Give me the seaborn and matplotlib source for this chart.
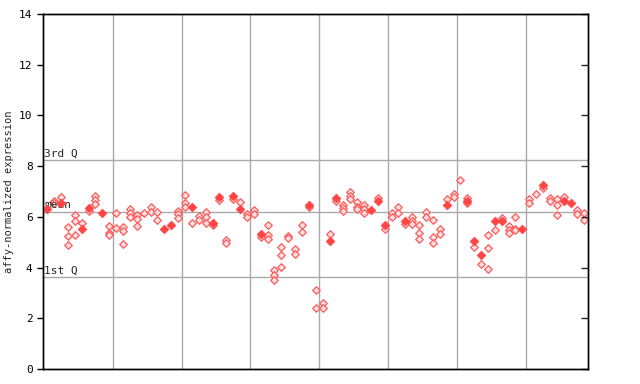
import numpy as np
import pandas as pd
import matplotlib
matplotlib.use("Agg")
import matplotlib.pyplot as plt
import seaborn as sns

# Expression values per sample column (open and solid diamonds)
open_pts = [
    [], [6.64, 6.55], [6.78], [5.59, 5.23, 4.88], [6.07, 5.84, 5.27],
    [5.76], [6.23], [6.82, 6.67, 6.51], [], [5.62, 5.35, 5.28],
    [6.14, 5.56], [5.59, 5.43, 4.92], [6.30, 6.14, 5.98], [6.07, 5.90, 5.62], [6.14],
    [6.38, 6.20], [6.20, 5.88], [], [], [6.23, 6.10, 5.94],
    [6.85, 6.56, 6.40], [5.74], [6.05, 5.88], [6.21, 5.98, 5.74], [5.66],
    [6.67], [5.09, 4.95], [6.69], [6.57], [6.12, 6.01],
    [6.26, 6.10], [5.19], [5.66, 5.28, 5.11], [3.90, 3.71, 3.51], [4.80, 4.48, 4.01],
    [5.24, 5.17], [4.72, 4.52], [5.66, 5.39], [6.38], [3.10, 2.39],
    [2.59, 2.39], [5.31], [6.64], [6.45, 6.33, 6.23], [6.99, 6.82, 6.70],
    [6.57, 6.38, 6.30], [6.47, 6.30, 6.14], [], [6.73], [5.53],
    [6.14, 6.01], [6.38, 6.14], [5.73], [5.98, 5.85, 5.73], [5.66, 5.35, 5.14],
    [6.21, 5.98], [5.86, 5.19, 4.95], [5.51, 5.31], [6.69], [6.90, 6.77],
    [7.45], [6.75, 6.53], [4.82], [4.13], [5.27, 4.76, 3.94],
    [5.47], [5.94], [5.62, 5.47, 5.35], [6.01, 5.54, 5.47], [],
    [6.69, 6.53], [6.92], [7.12], [6.73, 6.64], [6.69, 6.45, 6.06],
    [6.80], [], [6.26, 6.10], [6.14, 5.88],
]
solid_pts = {
    0: 6.31, 2: 6.55, 5: 5.52, 6: 6.36, 8: 6.15, 17: 5.54, 18: 5.68,
    21: 6.38, 24: 5.77, 25: 6.80, 27: 6.82, 28: 6.31, 31: 5.32, 38: 6.45,
    41: 5.06, 42: 6.73, 47: 6.26, 48: 6.64, 49: 5.68, 52: 5.85, 58: 6.48,
    61: 6.64, 62: 5.06, 63: 4.50, 65: 5.82, 66: 5.84, 69: 5.51, 72: 7.27,
    75: 6.64, 76: 6.53,
}

q1, mean, q3 = 3.62, 6.21, 8.23
group_edges = [9.5, 19.5, 29.5, 39.5, 49.5, 59.5, 69.5]

open_df = pd.DataFrame(
    [(i, v) for i, vals in enumerate(open_pts) for v in vals],
    columns=["sample", "expr"])
solid_df = pd.DataFrame(list(solid_pts.items()), columns=["sample", "expr"])

sns.set_style("white")
plt.rcParams["font.family"] = ["DejaVu Sans Mono", "DejaVu Sans"]

fig = plt.figure(figsize=(6.4, 3.84), dpi=100)
ax = fig.add_axes([43 / 640, 15 / 384, 545 / 640, 355 / 384])

for g in group_edges:
    ax.axvline(g, color="#aaaaaa", lw=1, zorder=1)
for q in (q1, mean, q3):
    ax.axhline(q, color="#aaaaaa", lw=1, zorder=1)

sns.scatterplot(data=open_df, x="sample", y="expr", ax=ax, marker="D", s=15,
                facecolor="#ffe0e0", edgecolor="#ff5a5a", linewidth=0.9, zorder=3)
sns.scatterplot(data=solid_df, x="sample", y="expr", ax=ax, marker="D", s=20,
                color="#ff4444", edgecolor="#ff4444", linewidth=0.5, zorder=4)

ax.text(-0.45, q3 + 0.05, "3rd Q", fontsize=8, va="bottom", ha="left")
ax.text(-0.45, mean + 0.05, "mean", fontsize=8, va="bottom", ha="left")
ax.text(-0.45, q1 + 0.05, "1st Q", fontsize=8, va="bottom", ha="left")

ax.set_xlim(-0.62, 78.53)
ax.set_ylim(0, 14)
ax.set_yticks(np.arange(0, 15, 2))
ax.set_xticks([])
ax.set_xlabel("")
ax.set_ylabel("affy-normalized expression", fontsize=7.5)
ax.tick_params(axis="y", direction="out", length=4, width=1, labelsize=8, colors="black")

rax = ax.twinx()
rax.set_ylim(0, 14)
rax.set_yticks(np.arange(0, 15, 2))
rax.set_yticklabels([])
rax.tick_params(axis="y", direction="in", length=5, width=1)

for a in (ax, rax):
    for sp in a.spines.values():
        sp.set_color("black")
        sp.set_linewidth(1)

fig.savefig("out.png", dpi=100)
